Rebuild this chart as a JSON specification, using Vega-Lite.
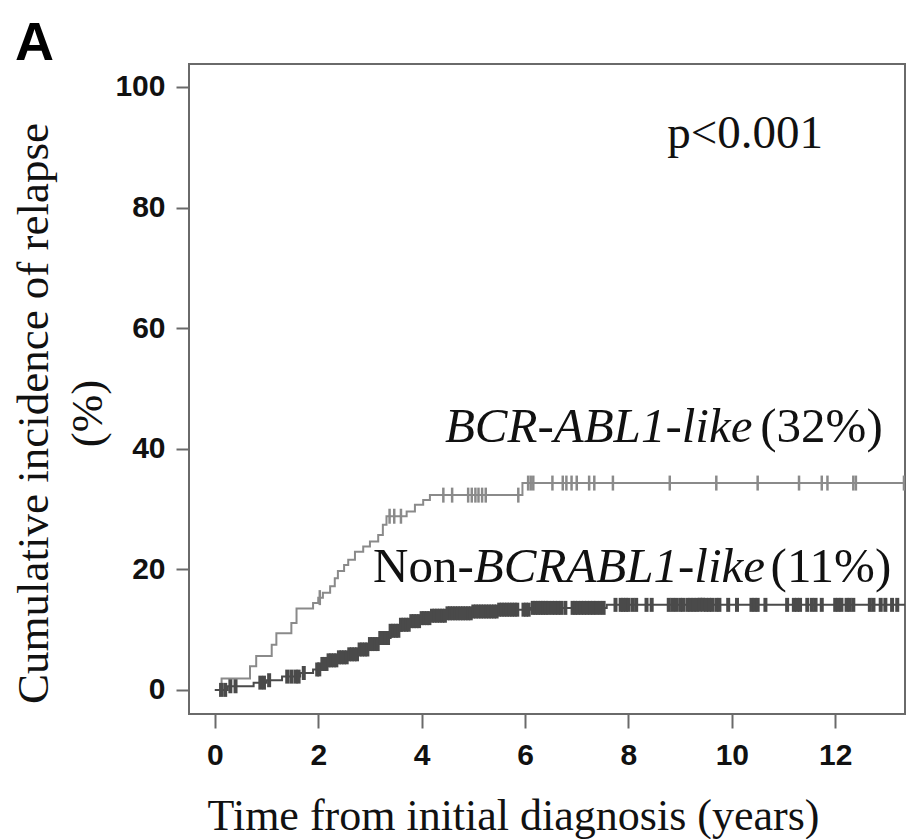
{
  "$schema": "https://vega.github.io/schema/vega-lite/v6.json",
  "autosize": {"type": "none"},
  "padding": {"left": 189, "top": 64, "right": 2, "bottom": 125},
  "width": 716,
  "height": 650,
  "background": "white",
  "title": {"text": "A", "anchor": "start", "frame": "group", "fontSize": 54, "font": "Liberation Sans", "fontWeight": "bold", "dx": -174, "dy": 52, "offset": 2, "baseline": "alphabetic", "color": "#000000"},
  "config": {
    "view": {"stroke": "#6a6a6a", "strokeWidth": 2},
    "axis": {"grid": false, "domain": false, "tickColor": "#6a6a6a", "tickWidth": 2, "labelFont": "Liberation Sans", "labelFontWeight": "bold", "labelFontSize": 30, "labelColor": "#111111", "titleFont": "Liberation Serif", "titleFontWeight": "normal", "titleFontSize": 44, "titleColor": "#111111"}
  },
  "datasets": {
    "curves": [
      {"group": "BCR", "t": 0, "ci": 0}, {"group": "BCR", "t": 0.13, "ci": 1.9}, {"group": "BCR", "t": 0.68, "ci": 3.9}, {"group": "BCR", "t": 0.8, "ci": 5.6}, {"group": "BCR", "t": 1.1, "ci": 7.5}, {"group": "BCR", "t": 1.19, "ci": 9.4}, {"group": "BCR", "t": 1.48, "ci": 11.1}, {"group": "BCR", "t": 1.58, "ci": 13.5}, {"group": "BCR", "t": 1.9, "ci": 14.4}, {"group": "BCR", "t": 2.0, "ci": 15.3}, {"group": "BCR", "t": 2.09, "ci": 16.1}, {"group": "BCR", "t": 2.23, "ci": 17.2}, {"group": "BCR", "t": 2.32, "ci": 18.5}, {"group": "BCR", "t": 2.38, "ci": 19.7}, {"group": "BCR", "t": 2.5, "ci": 20.7}, {"group": "BCR", "t": 2.58, "ci": 21.6}, {"group": "BCR", "t": 2.71, "ci": 22.9}, {"group": "BCR", "t": 2.87, "ci": 23.8}, {"group": "BCR", "t": 3.0, "ci": 24.6}, {"group": "BCR", "t": 3.16, "ci": 25.7}, {"group": "BCR", "t": 3.25, "ci": 27.4}, {"group": "BCR", "t": 3.32, "ci": 28.8}, {"group": "BCR", "t": 3.71, "ci": 29.6}, {"group": "BCR", "t": 3.87, "ci": 30.7}, {"group": "BCR", "t": 4.03, "ci": 31.5}, {"group": "BCR", "t": 4.16, "ci": 32.3}, {"group": "BCR", "t": 5.95, "ci": 34.3}, {"group": "BCR", "t": 13.4, "ci": 34.3},
      {"group": "Non", "t": 0, "ci": 0}, {"group": "Non", "t": 0.25, "ci": 0.6}, {"group": "Non", "t": 0.75, "ci": 1.2}, {"group": "Non", "t": 1.0, "ci": 1.6}, {"group": "Non", "t": 1.3, "ci": 2.2}, {"group": "Non", "t": 1.65, "ci": 2.8}, {"group": "Non", "t": 1.9, "ci": 3.4}, {"group": "Non", "t": 2.05, "ci": 4.3}, {"group": "Non", "t": 2.2, "ci": 4.9}, {"group": "Non", "t": 2.4, "ci": 5.4}, {"group": "Non", "t": 2.6, "ci": 5.9}, {"group": "Non", "t": 2.8, "ci": 6.7}, {"group": "Non", "t": 3.0, "ci": 7.6}, {"group": "Non", "t": 3.2, "ci": 8.6}, {"group": "Non", "t": 3.4, "ci": 9.8}, {"group": "Non", "t": 3.6, "ci": 10.8}, {"group": "Non", "t": 3.8, "ci": 11.4}, {"group": "Non", "t": 4.0, "ci": 11.9}, {"group": "Non", "t": 4.2, "ci": 12.3}, {"group": "Non", "t": 4.5, "ci": 12.7}, {"group": "Non", "t": 5.0, "ci": 13.0}, {"group": "Non", "t": 5.5, "ci": 13.3}, {"group": "Non", "t": 6.1, "ci": 13.6}, {"group": "Non", "t": 7.58, "ci": 14.1}, {"group": "Non", "t": 13.4, "ci": 14.1}
    ],
    "censor": [
      {"group": "BCR", "t": 2.03, "ci": 15.3}, {"group": "BCR", "t": 3.38, "ci": 28.8}, {"group": "BCR", "t": 3.47, "ci": 28.8}, {"group": "BCR", "t": 3.6, "ci": 28.8}, {"group": "BCR", "t": 4.42, "ci": 32.3}, {"group": "BCR", "t": 4.59, "ci": 32.3}, {"group": "BCR", "t": 4.9, "ci": 32.3}, {"group": "BCR", "t": 4.97, "ci": 32.3}, {"group": "BCR", "t": 5.04, "ci": 32.3}, {"group": "BCR", "t": 5.1, "ci": 32.3}, {"group": "BCR", "t": 5.17, "ci": 32.3}, {"group": "BCR", "t": 5.24, "ci": 32.3}, {"group": "BCR", "t": 5.87, "ci": 32.3}, {"group": "BCR", "t": 6.06, "ci": 34.3}, {"group": "BCR", "t": 6.11, "ci": 34.3}, {"group": "BCR", "t": 6.16, "ci": 34.3}, {"group": "BCR", "t": 6.53, "ci": 34.3}, {"group": "BCR", "t": 6.73, "ci": 34.3}, {"group": "BCR", "t": 6.8, "ci": 34.3}, {"group": "BCR", "t": 6.9, "ci": 34.3}, {"group": "BCR", "t": 7.0, "ci": 34.3}, {"group": "BCR", "t": 7.24, "ci": 34.3}, {"group": "BCR", "t": 7.34, "ci": 34.3}, {"group": "BCR", "t": 7.7, "ci": 34.3}, {"group": "BCR", "t": 8.8, "ci": 34.3}, {"group": "BCR", "t": 9.7, "ci": 34.3}, {"group": "BCR", "t": 10.5, "ci": 34.3}, {"group": "BCR", "t": 11.3, "ci": 34.3}, {"group": "BCR", "t": 11.74, "ci": 34.3}, {"group": "BCR", "t": 11.85, "ci": 34.3}, {"group": "BCR", "t": 12.35, "ci": 34.3}, {"group": "BCR", "t": 12.4, "ci": 34.3}, {"group": "BCR", "t": 13.33, "ci": 34.3},
      {"group": "Non", "t": 0.12, "ci": 0}, {"group": "Non", "t": 0.2, "ci": 0}, {"group": "Non", "t": 0.3, "ci": 0.6}, {"group": "Non", "t": 0.4, "ci": 0.6}, {"group": "Non", "t": 0.88, "ci": 1.2}, {"group": "Non", "t": 0.95, "ci": 1.2}, {"group": "Non", "t": 1.05, "ci": 1.6}, {"group": "Non", "t": 1.4, "ci": 2.2}, {"group": "Non", "t": 1.48, "ci": 2.2}, {"group": "Non", "t": 1.56, "ci": 2.2}, {"group": "Non", "t": 1.62, "ci": 2.2}, {"group": "Non", "t": 1.72, "ci": 2.8}, {"group": "Non", "t": 1.98, "ci": 3.4}, {"group": "Non", "t": 2.02, "ci": 3.4}, {"group": "Non", "t": 2.08, "ci": 4.3}, {"group": "Non", "t": 2.12, "ci": 4.3}, {"group": "Non", "t": 2.16, "ci": 4.3},
      {"group": "Non", "t": 2.2, "ci": 4.9}, {"group": "Non", "t": 2.25, "ci": 4.9}, {"group": "Non", "t": 2.3, "ci": 4.9}, {"group": "Non", "t": 2.35, "ci": 4.9}, {"group": "Non", "t": 2.4, "ci": 5.4}, {"group": "Non", "t": 2.45, "ci": 5.4}, {"group": "Non", "t": 2.5, "ci": 5.4}, {"group": "Non", "t": 2.55, "ci": 5.4}, {"group": "Non", "t": 2.6, "ci": 5.9}, {"group": "Non", "t": 2.65, "ci": 5.9}, {"group": "Non", "t": 2.7, "ci": 5.9}, {"group": "Non", "t": 2.75, "ci": 5.9}, {"group": "Non", "t": 2.8, "ci": 6.7}, {"group": "Non", "t": 2.85, "ci": 6.7}, {"group": "Non", "t": 2.9, "ci": 6.7}, {"group": "Non", "t": 2.95, "ci": 6.7}, {"group": "Non", "t": 3.0, "ci": 7.6}, {"group": "Non", "t": 3.05, "ci": 7.6}, {"group": "Non", "t": 3.1, "ci": 7.6}, {"group": "Non", "t": 3.15, "ci": 7.6}, {"group": "Non", "t": 3.2, "ci": 8.6}, {"group": "Non", "t": 3.25, "ci": 8.6}, {"group": "Non", "t": 3.3, "ci": 8.6}, {"group": "Non", "t": 3.35, "ci": 8.6}, {"group": "Non", "t": 3.4, "ci": 9.8}, {"group": "Non", "t": 3.45, "ci": 9.8}, {"group": "Non", "t": 3.5, "ci": 9.8}, {"group": "Non", "t": 3.55, "ci": 9.8}, {"group": "Non", "t": 3.6, "ci": 10.8}, {"group": "Non", "t": 3.65, "ci": 10.8}, {"group": "Non", "t": 3.7, "ci": 10.8}, {"group": "Non", "t": 3.75, "ci": 10.8}, {"group": "Non", "t": 3.8, "ci": 11.4}, {"group": "Non", "t": 3.85, "ci": 11.4}, {"group": "Non", "t": 3.9, "ci": 11.4}, {"group": "Non", "t": 3.95, "ci": 11.4}, {"group": "Non", "t": 4.0, "ci": 11.9}, {"group": "Non", "t": 4.05, "ci": 11.9}, {"group": "Non", "t": 4.1, "ci": 11.9}, {"group": "Non", "t": 4.15, "ci": 11.9}, {"group": "Non", "t": 4.2, "ci": 12.3}, {"group": "Non", "t": 4.25, "ci": 12.3}, {"group": "Non", "t": 4.3, "ci": 12.3}, {"group": "Non", "t": 4.35, "ci": 12.3}, {"group": "Non", "t": 4.4, "ci": 12.3}, {"group": "Non", "t": 4.45, "ci": 12.3}, {"group": "Non", "t": 4.5, "ci": 12.7}, {"group": "Non", "t": 4.55, "ci": 12.7}, {"group": "Non", "t": 4.6, "ci": 12.7}, {"group": "Non", "t": 4.65, "ci": 12.7}, {"group": "Non", "t": 4.7, "ci": 12.7}, {"group": "Non", "t": 4.75, "ci": 12.7}, {"group": "Non", "t": 4.8, "ci": 12.7}, {"group": "Non", "t": 4.85, "ci": 12.7}, {"group": "Non", "t": 4.9, "ci": 12.7}, {"group": "Non", "t": 4.95, "ci": 12.7}, {"group": "Non", "t": 5.0, "ci": 13.0}, {"group": "Non", "t": 5.05, "ci": 13.0}, {"group": "Non", "t": 5.1, "ci": 13.0}, {"group": "Non", "t": 5.15, "ci": 13.0}, {"group": "Non", "t": 5.2, "ci": 13.0}, {"group": "Non", "t": 5.25, "ci": 13.0}, {"group": "Non", "t": 5.3, "ci": 13.0}, {"group": "Non", "t": 5.35, "ci": 13.0}, {"group": "Non", "t": 5.4, "ci": 13.0}, {"group": "Non", "t": 5.45, "ci": 13.0}, {"group": "Non", "t": 5.5, "ci": 13.3}, {"group": "Non", "t": 5.55, "ci": 13.3}, {"group": "Non", "t": 5.6, "ci": 13.3}, {"group": "Non", "t": 5.65, "ci": 13.3}, {"group": "Non", "t": 5.7, "ci": 13.3}, {"group": "Non", "t": 5.75, "ci": 13.3}, {"group": "Non", "t": 5.8, "ci": 13.3}, {"group": "Non", "t": 5.85, "ci": 13.3},
      {"group": "Non", "t": 5.97, "ci": 13.3}, {"group": "Non", "t": 6.02, "ci": 13.3}, {"group": "Non", "t": 6.07, "ci": 13.3}, {"group": "Non", "t": 6.15, "ci": 13.6}, {"group": "Non", "t": 6.2, "ci": 13.6}, {"group": "Non", "t": 6.25, "ci": 13.6}, {"group": "Non", "t": 6.3, "ci": 13.6}, {"group": "Non", "t": 6.35, "ci": 13.6}, {"group": "Non", "t": 6.4, "ci": 13.6}, {"group": "Non", "t": 6.45, "ci": 13.6}, {"group": "Non", "t": 6.52, "ci": 13.6}, {"group": "Non", "t": 6.58, "ci": 13.6}, {"group": "Non", "t": 6.64, "ci": 13.6}, {"group": "Non", "t": 6.7, "ci": 13.6}, {"group": "Non", "t": 6.78, "ci": 13.6}, {"group": "Non", "t": 6.92, "ci": 13.6}, {"group": "Non", "t": 6.97, "ci": 13.6}, {"group": "Non", "t": 7.02, "ci": 13.6}, {"group": "Non", "t": 7.08, "ci": 13.6}, {"group": "Non", "t": 7.14, "ci": 13.6}, {"group": "Non", "t": 7.2, "ci": 13.6}, {"group": "Non", "t": 7.26, "ci": 13.6}, {"group": "Non", "t": 7.32, "ci": 13.6}, {"group": "Non", "t": 7.38, "ci": 13.6}, {"group": "Non", "t": 7.45, "ci": 13.6}, {"group": "Non", "t": 7.52, "ci": 13.6},
      {"group": "Non", "t": 7.75, "ci": 14.1}, {"group": "Non", "t": 7.85, "ci": 14.1}, {"group": "Non", "t": 7.9, "ci": 14.1}, {"group": "Non", "t": 7.95, "ci": 14.1}, {"group": "Non", "t": 8.0, "ci": 14.1}, {"group": "Non", "t": 8.08, "ci": 14.1}, {"group": "Non", "t": 8.15, "ci": 14.1}, {"group": "Non", "t": 8.35, "ci": 14.1}, {"group": "Non", "t": 8.45, "ci": 14.1}, {"group": "Non", "t": 8.78, "ci": 14.1}, {"group": "Non", "t": 8.85, "ci": 14.1}, {"group": "Non", "t": 8.92, "ci": 14.1}, {"group": "Non", "t": 9.0, "ci": 14.1}, {"group": "Non", "t": 9.06, "ci": 14.1}, {"group": "Non", "t": 9.14, "ci": 14.1}, {"group": "Non", "t": 9.2, "ci": 14.1}, {"group": "Non", "t": 9.26, "ci": 14.1}, {"group": "Non", "t": 9.32, "ci": 14.1}, {"group": "Non", "t": 9.38, "ci": 14.1}, {"group": "Non", "t": 9.44, "ci": 14.1}, {"group": "Non", "t": 9.5, "ci": 14.1}, {"group": "Non", "t": 9.56, "ci": 14.1}, {"group": "Non", "t": 9.62, "ci": 14.1}, {"group": "Non", "t": 9.7, "ci": 14.1}, {"group": "Non", "t": 9.76, "ci": 14.1}, {"group": "Non", "t": 9.93, "ci": 14.1}, {"group": "Non", "t": 10.1, "ci": 14.1}, {"group": "Non", "t": 10.38, "ci": 14.1}, {"group": "Non", "t": 10.44, "ci": 14.1}, {"group": "Non", "t": 10.5, "ci": 14.1}, {"group": "Non", "t": 10.65, "ci": 14.1}, {"group": "Non", "t": 11.07, "ci": 14.1}, {"group": "Non", "t": 11.2, "ci": 14.1}, {"group": "Non", "t": 11.26, "ci": 14.1}, {"group": "Non", "t": 11.32, "ci": 14.1}, {"group": "Non", "t": 11.46, "ci": 14.1}, {"group": "Non", "t": 11.55, "ci": 14.1}, {"group": "Non", "t": 11.62, "ci": 14.1}, {"group": "Non", "t": 11.74, "ci": 14.1}, {"group": "Non", "t": 12.0, "ci": 14.1}, {"group": "Non", "t": 12.06, "ci": 14.1}, {"group": "Non", "t": 12.12, "ci": 14.1}, {"group": "Non", "t": 12.22, "ci": 14.1}, {"group": "Non", "t": 12.28, "ci": 14.1}, {"group": "Non", "t": 12.35, "ci": 14.1}, {"group": "Non", "t": 12.67, "ci": 14.1}, {"group": "Non", "t": 12.74, "ci": 14.1}, {"group": "Non", "t": 12.88, "ci": 14.1}, {"group": "Non", "t": 12.97, "ci": 14.1}, {"group": "Non", "t": 13.1, "ci": 14.1}, {"group": "Non", "t": 13.2, "ci": 14.1}
    ],
    "labels": [
      {"label": "p<0.001", "style": "normal", "size": "p", "t": 8.75, "v": 89.9},
      {"label": "BCR-ABL1-like", "style": "italic", "size": "c", "t": 4.45, "v": 41.1},
      {"label": "(32%)", "style": "normal", "size": "c", "t": 10.55, "v": 41.1},
      {"label": "Non-", "style": "normal", "size": "c", "t": 3.06, "v": 17.9},
      {"label": "BCRABL1-like", "style": "italic", "size": "c", "t": 5.01, "v": 17.9},
      {"label": "(11%)", "style": "normal", "size": "c", "t": 10.75, "v": 17.9}
    ]
  },
  "encoding": {
    "x": {"field": "t", "type": "quantitative", "scale": {"domain": [-0.5, 13.35], "nice": false, "zero": false},
      "axis": {"values": [0, 2, 4, 6, 8, 10, 12], "tickSize": 14, "labelPadding": 12, "title": "Time from initial diagnosis (years)", "titleX": 324, "titleY": 115, "titleBaseline": "alphabetic", "titleAlign": "center"}}
  },
  "layer": [
    {
      "data": {"name": "curves"},
      "mark": {"type": "line", "interpolate": "step-after", "strokeWidth": 2, "clip": true},
      "encoding": {
        "y": {"field": "ci", "type": "quantitative", "scale": {"domain": [-4, 103.8], "nice": false, "zero": false},
          "axis": {"values": [0, 20, 40, 60, 80, 100], "tickSize": 13, "labelPadding": 11, "title": ["Cumulative incidence of relapse", "(%)"], "titleFontSize": 45, "titleLineHeight": 54, "titleX": -142, "titleY": 349, "titleAngle": -90, "titleBaseline": "alphabetic", "titleAlign": "center"}},
        "color": {"field": "group", "type": "nominal", "scale": {"domain": ["BCR", "Non"], "range": ["#8a8a8a", "#4a4a4a"]}, "legend": null}
      }
    },
    {
      "data": {"name": "censor"},
      "transform": [{"filter": "datum.group === 'BCR'"}],
      "mark": {"type": "tick", "orient": "vertical", "size": 15, "thickness": 2.5, "opacity": 1, "clip": true},
      "encoding": {
        "y": {"field": "ci", "type": "quantitative"},
        "color": {"field": "group", "type": "nominal", "legend": null}
      }
    },
    {
      "data": {"name": "censor"},
      "transform": [{"filter": "datum.group === 'Non'"}],
      "mark": {"type": "tick", "orient": "vertical", "size": 14, "thickness": 4, "opacity": 1, "clip": true},
      "encoding": {
        "y": {"field": "ci", "type": "quantitative"},
        "color": {"field": "group", "type": "nominal", "legend": null}
      }
    },
    {
      "data": {"name": "labels"},
      "transform": [{"filter": "datum.style === 'normal' && datum.size === 'p'"}],
      "mark": {"type": "text", "align": "left", "baseline": "alphabetic", "font": "Liberation Serif", "fontSize": 47, "color": "#111111"},
      "encoding": {
        "y": {"field": "v", "type": "quantitative"},
        "text": {"field": "label"}
      }
    },
    {
      "data": {"name": "labels"},
      "transform": [{"filter": "datum.style === 'normal' && datum.size === 'c'"}],
      "mark": {"type": "text", "align": "left", "baseline": "alphabetic", "font": "Liberation Serif", "fontSize": 49, "color": "#111111"},
      "encoding": {
        "y": {"field": "v", "type": "quantitative"},
        "text": {"field": "label"}
      }
    },
    {
      "data": {"name": "labels"},
      "transform": [{"filter": "datum.style === 'italic'"}],
      "mark": {"type": "text", "align": "left", "baseline": "alphabetic", "font": "Liberation Serif", "fontSize": 49, "fontStyle": "italic", "color": "#111111"},
      "encoding": {
        "y": {"field": "v", "type": "quantitative"},
        "text": {"field": "label"}
      }
    }
  ]
}
